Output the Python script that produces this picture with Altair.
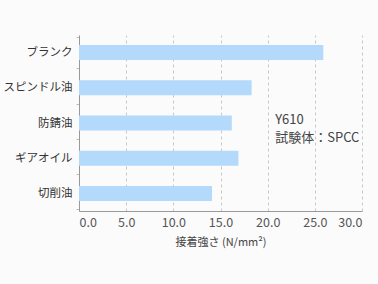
import altair as alt
import pandas as pd

categories = ["ブランク", "スピンドル油", "防錆油", "ギアオイル", "切削油"]
values = [25.9, 18.3, 16.2, 16.9, 14.1]
x_ticks = [0, 5, 10, 15, 20, 25, 30]
note_lines = ["Y610", "試験体：SPCC"]
note_x = 20.8

df = pd.DataFrame({"cat": categories, "val": values})
FONT = "Noto Sans CJK JP"

bars = alt.Chart(df).mark_bar(color="#b3d9fb", size=15).encode(
    x=alt.X("val:Q",
            scale=alt.Scale(domain=[0, 30], nice=False),
            axis=alt.Axis(values=x_ticks, format=".1f", title="接着強さ (N/mm²)",
                          grid=True, gridDash=[3, 3], gridColor="#c8c8c8",
                          domainColor="#999999", ticks=False, labelPadding=5,
                          labelFontSize=12.5, labelColor="#555555", labelFont=FONT,
                          titleFont=FONT, titleFontSize=11, titleColor="#444444",
                          titleFontWeight="normal", titlePadding=8)),
    y=alt.Y("cat:N", sort=categories,
            axis=alt.Axis(title=None, labelFont=FONT, labelFontSize=11.5,
                          labelColor="#333333", domainColor="#999999",
                          tickBand="extent", tickSize=3, tickColor="#bbbbbb",
                          labelPadding=4)),
)

note_df = pd.DataFrame({"x": [note_x, note_x], "t": note_lines, "i": [0, 1]})
note = alt.Chart(note_df).mark_text(align="left", baseline="middle", font=FONT,
                                    fontSize=13, color="#444444").encode(
    x="x:Q",
    y=alt.Y("i:Q", scale=alt.Scale(domain=[0, 1], range=[85, 103]), axis=None),
    text="t:N",
)

chart = alt.layer(bars, note).resolve_scale(y="independent").properties(
    width=283, height=176,
    autosize=alt.AutoSizeParams(type="none"),
    padding={"left": 79, "top": 35, "right": 16, "bottom": 73},
    background="#fbfbfb",
).configure_view(stroke=None)

chart.save("out.html", embed_options={"renderer": "svg", "actions": False})
